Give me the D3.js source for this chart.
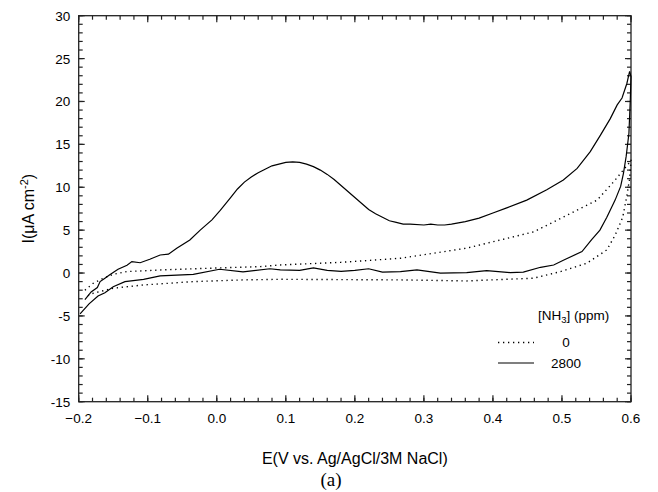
<!DOCTYPE html>
<html>
<head>
<meta charset="utf-8">
<script src="https://cdn.jsdelivr.net/npm/d3@7"></script>
<style>
  body { margin: 0; background: #fff; }
  svg { display: block; font-family: "Liberation Sans", Arial, sans-serif; }
</style>
</head>
<body>
<div id="chart"></div>
<script>
/* DATA */
// 2800 ppm NH3, forward (anodic) scan then reverse
const solidE = [-0.191, -0.182, -0.173, -0.169, -0.162, -0.155, -0.143, -0.130, -0.123, -0.111, -0.097, -0.082, -0.070, -0.058, -0.039, -0.024, -0.007,
  0.005, 0.02, 0.03, 0.04, 0.05, 0.06, 0.07, 0.08, 0.09, 0.10, 0.11, 0.12, 0.13, 0.14, 0.15, 0.16, 0.17, 0.18, 0.19, 0.20, 0.21, 0.22, 0.23, 0.24,
  0.25, 0.26, 0.27, 0.28, 0.30, 0.31, 0.32, 0.33, 0.34, 0.36, 0.38, 0.40, 0.42, 0.449, 0.478, 0.502, 0.522, 0.541, 0.556, 0.570, 0.580, 0.587, 0.594, 0.598,
  0.600, 0.599, 0.597, 0.593, 0.589, 0.585, 0.577, 0.565, 0.555, 0.543, 0.529, 0.502, 0.488, 0.469, 0.444, 0.425, 0.391, 0.362, 0.324, 0.290, 0.266,
  0.24, 0.22, 0.20, 0.18, 0.16, 0.14, 0.12, 0.092, 0.077, 0.038, 0.004, -0.034, -0.082, -0.106, -0.133, -0.150, -0.162, -0.172, -0.185, -0.198];
const solidI = [-3.1, -2.2, -1.7, -1.0, -0.6, -0.2, 0.44, 0.9, 1.33, 1.2, 1.6, 2.1, 2.2, 2.9, 3.86, 5.0, 6.2,
  7.3, 8.8, 9.8, 10.6, 11.2, 11.7, 12.1, 12.5, 12.7, 12.9, 12.95, 12.9, 12.7, 12.4, 12.0, 11.5, 10.9, 10.2, 9.5, 8.8, 8.1, 7.4, 6.9, 6.5,
  6.1, 5.9, 5.7, 5.7, 5.6, 5.7, 5.6, 5.6, 5.7, 6.0, 6.4, 7.0, 7.6, 8.5, 9.7, 10.85, 12.2, 14.15, 16.1, 18.0, 19.6, 20.4, 22.1, 23.5,
  22.9, 20.2, 16.3, 13.6, 11.6, 10.1, 8.5, 6.5, 5.0, 3.9, 2.5, 1.5, 0.94, 0.67, 0.1, 0.05, 0.28, 0.05, 0.0, 0.36, 0.17,
  0.1, 0.5, 0.3, 0.2, 0.3, 0.6, 0.3, 0.36, 0.5, 0.13, 0.44, -0.15, -0.34, -0.73, -1.0, -1.6, -2.3, -2.67, -3.6, -4.77];

// 0 ppm NH3
const dotE = [-0.191, -0.179, -0.164, -0.150, -0.130, -0.082, -0.010, 0.063, 0.092, 0.18, 0.266, 0.362, 0.459, 0.551, 0.575, 0.597, 0.600,
  0.598, 0.594, 0.588, 0.577, 0.565, 0.536, 0.498, 0.459, 0.362, 0.266, 0.092, 0.038, -0.034, -0.106, -0.150, -0.179, -0.191];
const dotI = [-2.0, -1.2, -0.6, -0.15, 0.17, 0.36, 0.56, 0.75, 0.94, 1.25, 1.72, 2.9, 4.8, 8.5, 10.65, 12.8, 13.2,
  11.0, 9.0, 6.5, 4.4, 2.7, 1.14, 0.17, -0.6, -0.92, -0.8, -0.73, -0.8, -1.0, -1.39, -1.77, -2.36, -2.8];

const xTicks = [-0.2, -0.1, 0.0, 0.1, 0.2, 0.3, 0.4, 0.5, 0.6];
const yTicks = [-15, -10, -5, 0, 5, 10, 15, 20, 25, 30];
const legendLabels = ["0", "2800"];

/* SETUP */
const width = 658, height = 492;
const margin = { top: 15.7, right: 27, bottom: 90.3, left: 78.7 };

const svg = d3.select("#chart").append("svg")
  .attr("width", width)
  .attr("height", height);

const xScale = d3.scaleLinear().domain([-0.2, 0.6]).range([margin.left, width - margin.right]);
const yScale = d3.scaleLinear().domain([-15, 30]).range([height - margin.bottom, margin.top]);

const x0 = xScale.range()[0], x1 = xScale.range()[1];
const y0 = yScale.range()[0], y1 = yScale.range()[1];

// minor ticks
const xMinor = d3.range(-0.2, 0.6001, 0.02);
const yMinor = d3.range(-15, 30.001, 1);

const axisG = svg.append("g").attr("stroke", "#222").attr("stroke-width", 1.2);

function tickMarks(vals, len, cls) {
  vals.forEach(v => {
    const x = xScale(v);
    axisG.append("line").attr("class", cls).attr("x1", x).attr("x2", x).attr("y1", y0).attr("y2", y0 - len);
    axisG.append("line").attr("class", cls).attr("x1", x).attr("x2", x).attr("y1", y1).attr("y2", y1 + len);
  });
}
function yTickMarks(vals, len, cls) {
  vals.forEach(v => {
    const y = yScale(v);
    axisG.append("line").attr("class", cls).attr("x1", x0).attr("x2", x0 + len).attr("y1", y).attr("y2", y);
    axisG.append("line").attr("class", cls).attr("x1", x1).attr("x2", x1 - len).attr("y1", y).attr("y2", y);
  });
}
tickMarks(xMinor, 4, "minor");
tickMarks(xTicks, 6.5, "major");
yTickMarks(yMinor, 4, "minor");
yTickMarks(yTicks, 6, "major");

// frame
axisG.append("rect")
  .attr("x", x0).attr("y", y1)
  .attr("width", x1 - x0).attr("height", y0 - y1)
  .attr("fill", "none")
  .attr("stroke-width", 1.3);

// tick labels
svg.append("g").selectAll("text")
  .data(xTicks)
  .join("text")
  .attr("x", d => xScale(d))
  .attr("y", y0 + 21.5)
  .attr("text-anchor", "middle")
  .attr("font-size", 13.5)
  .text(d => d3.format(".1f")(d));

svg.append("g").selectAll("text")
  .data(yTicks)
  .join("text")
  .attr("x", x0 - 8.5)
  .attr("y", d => yScale(d) + 5)
  .attr("text-anchor", "end")
  .attr("font-size", 13.5)
  .text(d => d);

// axis titles
svg.append("text")
  .attr("x", (x0 + x1) / 2)
  .attr("y", 464)
  .attr("text-anchor", "middle")
  .attr("font-size", 16)
  .text("E(V vs. Ag/AgCl/3M NaCl)");

const yt = svg.append("text")
  .attr("transform", `translate(34, ${(y0 + y1) / 2}) rotate(-90)`)
  .attr("text-anchor", "middle")
  .attr("font-size", 16);
yt.append("tspan").text("I(\u03bcA cm");
yt.append("tspan").attr("font-size", 11).attr("dy", -6).text("-2");
yt.append("tspan").attr("dy", 6).text(")");

svg.append("text")
  .attr("x", 331)
  .attr("y", 486)
  .attr("text-anchor", "middle")
  .attr("font-family", "'Liberation Serif', 'Times New Roman', serif")
  .attr("font-size", 19)
  .text("(a)");

/* LINES */
const line = d3.line()
  .x(d => xScale(d[0]))
  .y(d => yScale(d[1]));

svg.append("path")
  .datum(d3.zip(dotE, dotI))
  .attr("fill", "none")
  .attr("stroke", "#000")
  .attr("stroke-width", 1.4)
  .attr("stroke-dasharray", "1.3,3.7")
  .attr("d", line);

svg.append("path")
  .datum(d3.zip(solidE, solidI))
  .attr("fill", "none")
  .attr("stroke", "#000")
  .attr("stroke-width", 1.2)
  .attr("d", line);

/* LEGEND */
const lg = svg.append("g").attr("font-size", 13.5);
const lt = lg.append("text").attr("x", 538).attr("y", 320);
lt.append("tspan").text("[NH");
lt.append("tspan").attr("font-size", 9.5).attr("dy", 3).text("3");
lt.append("tspan").attr("dy", -3).text("] (ppm)");

legendLabels.forEach((lab, i) => {
  const yy = 347 + i * 20.5;
  lg.append("line")
    .attr("x1", 498).attr("x2", 534)
    .attr("y1", yy - 4.5).attr("y2", yy - 4.5)
    .attr("stroke", "#000")
    .attr("stroke-width", i === 0 ? 1.4 : 1.2)
    .attr("stroke-dasharray", i === 0 ? "1.3,3.7" : null);
  lg.append("text")
    .attr("x", 566).attr("y", yy)
    .attr("text-anchor", "middle")
    .text(lab);
});
</script>
</body>
</html>
